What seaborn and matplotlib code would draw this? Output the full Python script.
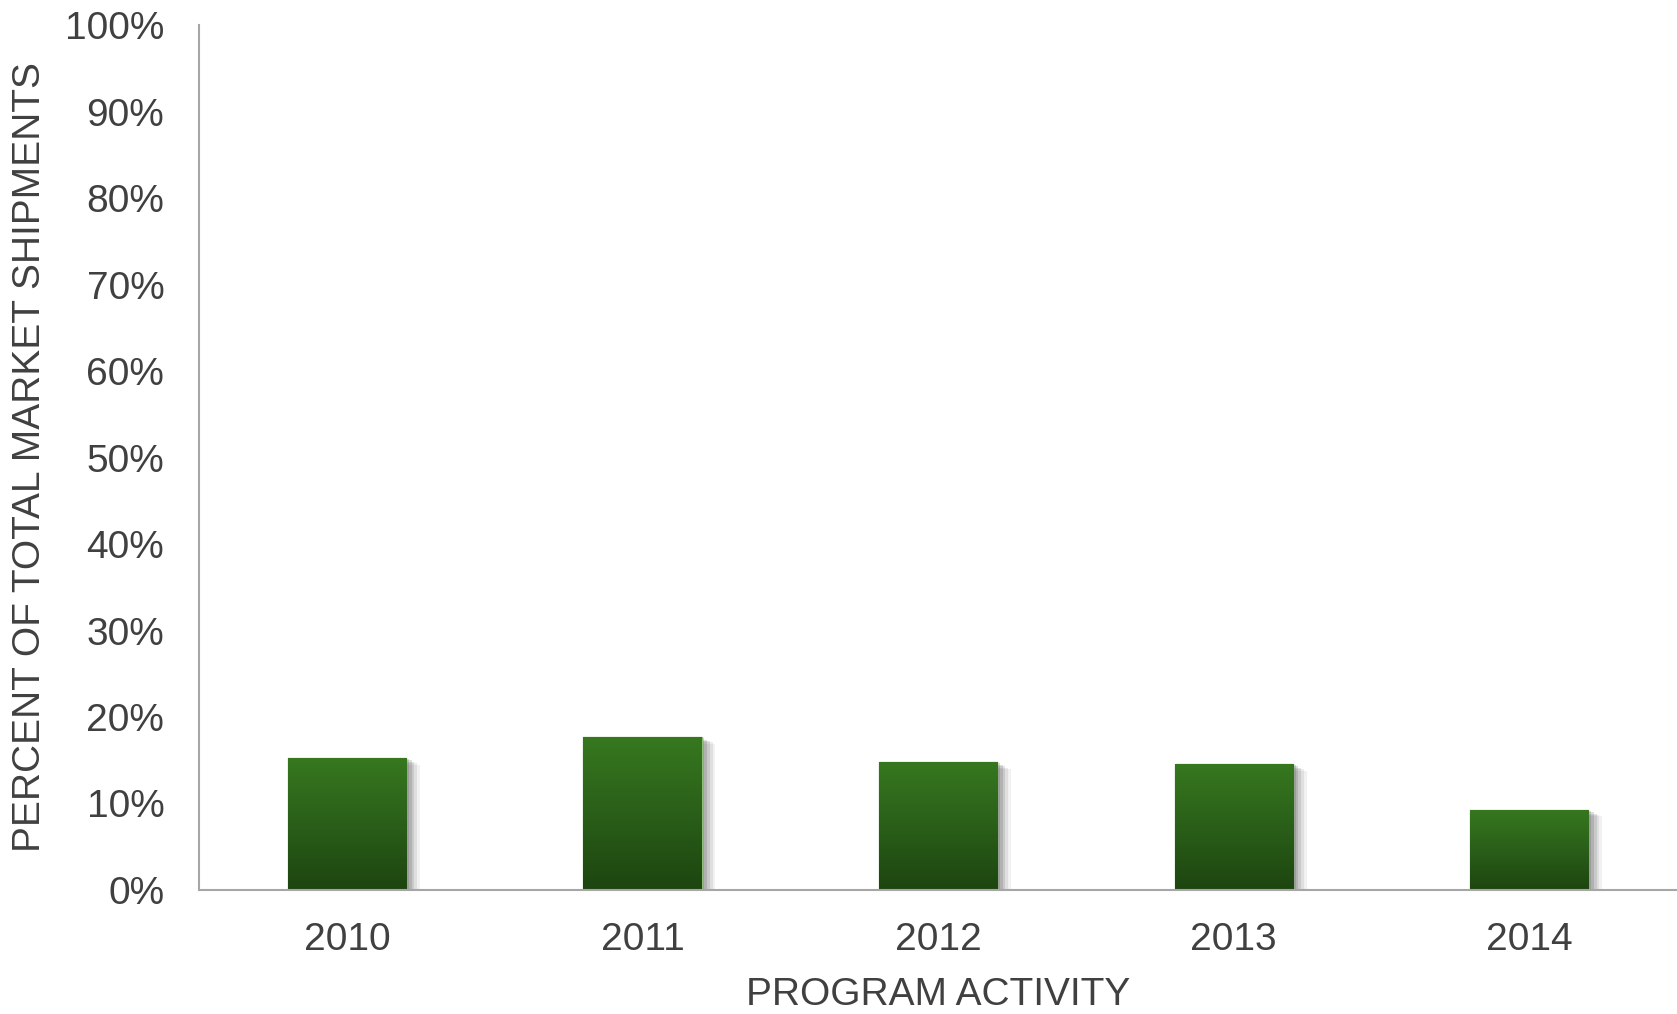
import numpy as np
import pandas as pd
import matplotlib
matplotlib.use("Agg")
import matplotlib.pyplot as plt
import matplotlib.patheffects as pe
from matplotlib.colors import LinearSegmentedColormap
from matplotlib.ticker import MultipleLocator, PercentFormatter
import seaborn as sns

# Share of total market shipments by program year (percent)
years = ["2010", "2011", "2012", "2013", "2014"]
share = [15.3, 17.7, 14.8, 14.6, 9.3]

df = pd.DataFrame({"year": years, "share": share})

sns.set_theme(style="white")
plt.rcParams["font.family"] = ["Liberation Sans", "DejaVu Sans"]

text_color = "#404040"
axis_color = "#a6a6a6"

fig = plt.figure(figsize=(16.77, 10.14), dpi=100)
ax = fig.add_axes([0.1187, 0.1223, 0.8813, 0.853])

sns.barplot(data=df, x="year", y="share", color="#2f6b1c", width=0.4,
            saturation=1, ax=ax, zorder=3)

# Vertical green gradient on each bar, with a soft drop shadow
green = LinearSegmentedColormap.from_list("bar_green", ["#1d4510", "#2a5f19", "#37781f"])
grad = np.linspace(0, 1, 256).reshape(-1, 1)
shadow = [pe.SimplePatchShadow(offset=(o, -o * 0.5), shadow_rgbFace="#444444", alpha=a)
          for o, a in [(10, 0.07), (8, 0.10), (6, 0.14), (4, 0.18), (2, 0.2)]]
for bar in ax.patches:
    x0, y0 = bar.get_x(), bar.get_y()
    w, h = bar.get_width(), bar.get_height()
    bar.set_edgecolor("#8fbf7a")
    bar.set_linewidth(1.0)
    bar.set_path_effects(shadow + [pe.Normal()])
    img = ax.imshow(grad, cmap=green, origin="lower", aspect="auto",
                    extent=(x0, x0 + w, y0, y0 + h), zorder=3.5,
                    interpolation="bilinear")
    img.set_clip_path(bar)

ax.set_xlim(-0.5, 4.5)
ax.set_ylim(0, 100)
ax.yaxis.set_major_locator(MultipleLocator(10))
ax.yaxis.set_major_formatter(PercentFormatter(decimals=0))

ax.tick_params(axis="both", length=0, labelsize=28, colors=text_color)
ax.tick_params(axis="y", pad=25)
ax.tick_params(axis="x", pad=23)

ax.set_xlabel("PROGRAM ACTIVITY", fontsize=28, color=text_color, va="center")
ax.xaxis.set_label_coords(0.5, -0.121)
ax.set_ylabel("PERCENT OF TOTAL MARKET SHIPMENTS", fontsize=28,
              color=text_color, va="center")
ax.yaxis.set_label_coords(-0.1143, 0.5)

for side in ["top", "right"]:
    ax.spines[side].set_visible(False)
for side in ["left", "bottom"]:
    ax.spines[side].set_color(axis_color)
    ax.spines[side].set_linewidth(1.5)
    ax.spines[side].set_zorder(5)

ax.grid(False)
fig.savefig("out.png", dpi=100)
